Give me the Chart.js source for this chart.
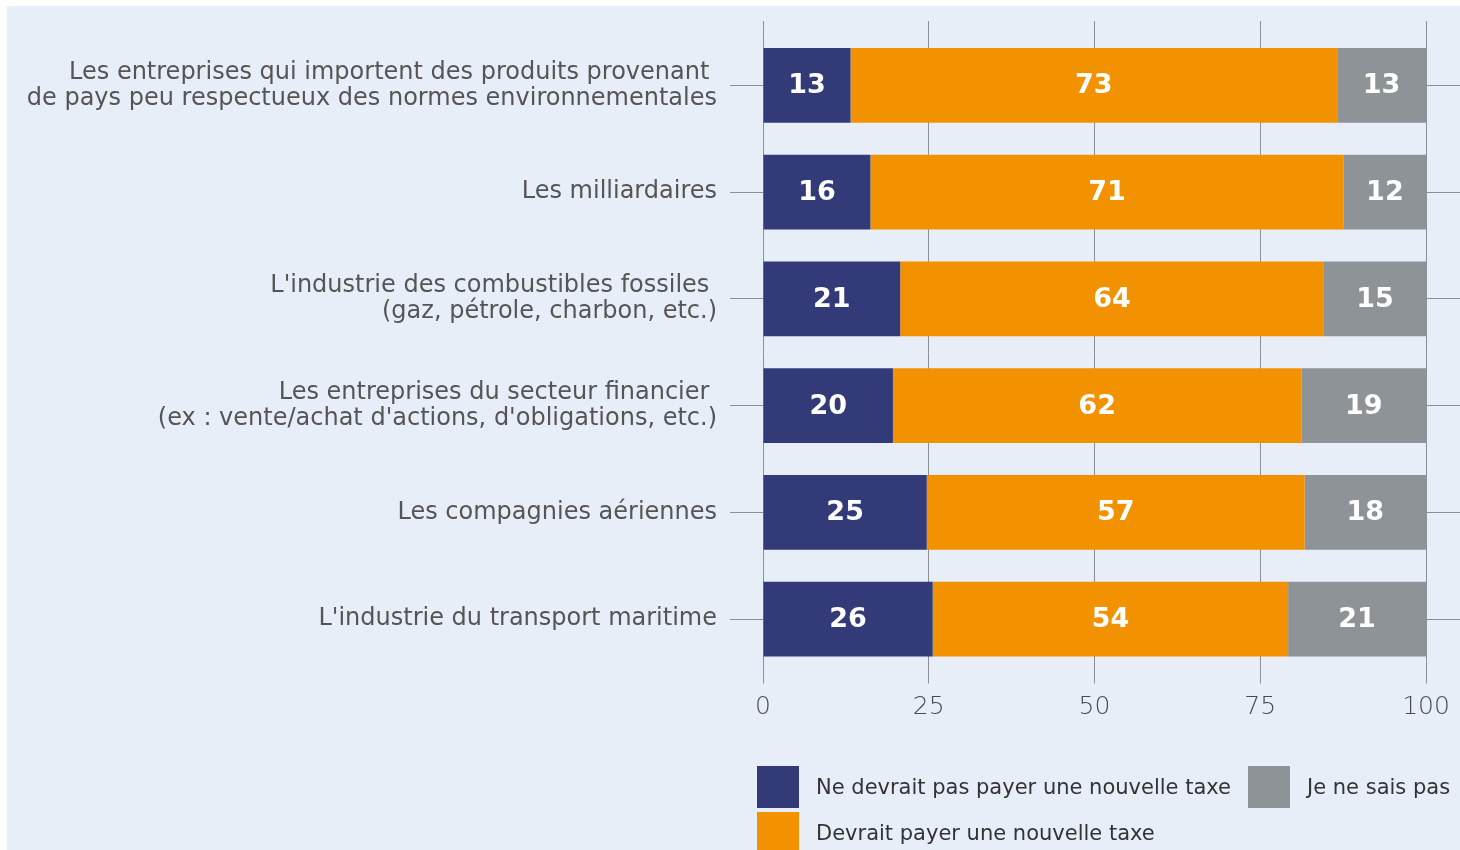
<!DOCTYPE html>
<html lang="fr">
<head>
<meta charset="UTF-8">
<title>Qui devrait payer une nouvelle taxe</title>
<script src="https://cdn.jsdelivr.net/npm/chart.js@4.4.1/dist/chart.umd.min.js"></script>
<style>
  html, body { margin: 0; padding: 0; background: #fff; }
  #wrap { position: absolute; left: 7px; top: 6px; width: 1453px; height: 844px; background: #e8eef8; overflow: hidden; }
  #legend { position: absolute; left: 750px; top: 760px; display: grid; grid-template-rows: 42px 42px; grid-auto-flow: column; column-gap: 17px; row-gap: 4px; font-family: "DejaVu Sans", sans-serif; font-size: 21px; color: #333; }
  .item { display: flex; align-items: center; }
  .box { width: 42px; height: 42px; margin-right: 17px; }
</style>
</head>
<body>
<div id="wrap">
  <canvas id="chart" width="1453" height="844"></canvas>
  <div id="legend"></div>
</div>
<script>
const categories = [
  ["Les entreprises qui importent des produits provenant ", "de pays peu respectueux des normes environnementales"],
  "Les milliardaires",
  ["L'industrie des combustibles fossiles ", "(gaz, pétrole, charbon, etc.)"],
  ["Les entreprises du secteur financier ", "(ex : vente/achat d'actions, d'obligations, etc.)"],
  "Les compagnies aériennes",
  "L'industrie du transport maritime"
];
const seriesNames = ["Ne devrait pas payer une nouvelle taxe", "Devrait payer une nouvelle taxe", "Je ne sais pas"];
const neDevraitPas = [13.2, 16.2, 20.7, 19.6, 24.7, 25.6];
const devrait = [73.4, 71.4, 63.9, 61.6, 57.0, 53.6];
const neSaisPas = [13.4, 12.4, 15.4, 18.8, 18.3, 20.8];
const colors = ["#323a78", "#f39200", "#8e9397"];

const FONT = '"DejaVu Sans", sans-serif';
const gridColor = "#8c8f94";

// white numbers in the middle of each segment
const barLabels = {
  id: 'barLabels',
  afterDatasetsDraw(chart) {
    const ctx = chart.ctx;
    ctx.save();
    ctx.font = 'bold 27px ' + FONT;
    ctx.fillStyle = '#fff';
    ctx.textAlign = 'center';
    ctx.textBaseline = 'middle';
    chart.data.datasets.forEach((ds, i) => {
      chart.getDatasetMeta(i).data.forEach((bar, j) => {
        ctx.fillText(Math.round(ds.data[j]), (bar.x + bar.base) / 2, bar.y + 1);
      });
    });
    ctx.restore();
  }
};

const chart = new Chart(document.getElementById('chart'), {
  type: 'bar',
  data: {
    labels: categories,
    datasets: [
      { label: seriesNames[0], data: neDevraitPas, backgroundColor: colors[0] },
      { label: seriesNames[1], data: devrait, backgroundColor: colors[1] },
      { label: seriesNames[2], data: neSaisPas, backgroundColor: colors[2] }
    ]
  },
  options: {
    indexAxis: 'y',
    responsive: false,
    animation: false,
    layout: { padding: 0 },
    datasets: { bar: { categoryPercentage: 0.7, barPercentage: 1, borderWidth: 0 } },
    plugins: { legend: { display: false }, tooltip: { enabled: false } },
    scales: {
      x: {
        stacked: true, min: 0, max: 100, position: 'bottom',
        afterFit: s => { s.height = 177.5; },
        border: { display: false },
        grid: { color: gridColor, tickLength: 11, drawOnChartArea: true },
        ticks: { stepSize: 25, padding: 9, color: '#4a4a4a', font: { family: FONT, size: 25, weight: 300 } }
      },
      x2: {
        type: 'linear', min: 0, max: 100, position: 'top',
        afterFit: s => { s.height = 23.5; },
        border: { display: false },
        grid: { color: gridColor, tickLength: 11, drawOnChartArea: false },
        ticks: { stepSize: 25, display: false }
      },
      y: {
        stacked: true, position: 'left',
        afterFit: s => { s.width = 756; },
        border: { display: false },
        grid: { color: gridColor, tickLength: 33, offset: false, drawOnChartArea: false },
        ticks: { padding: 13, color: '#555', font: { family: FONT, size: 24, lineHeight: 1.09 } }
      },
      y2: {
        type: 'category', position: 'right', offset: true,
        afterFit: s => { s.width = 34; },
        border: { display: false },
        grid: { color: gridColor, tickLength: 34, offset: false, drawOnChartArea: false },
        ticks: { display: false }
      }
    }
  },
  plugins: [barLabels]
});

// legend built from the datasets, two rows filled column by column
const legendEl = document.getElementById('legend');
chart.data.datasets.forEach(ds => {
  const item = document.createElement('div');
  item.className = 'item';
  const box = document.createElement('span');
  box.className = 'box';
  box.style.background = ds.backgroundColor;
  const txt = document.createElement('span');
  txt.textContent = ds.label;
  item.appendChild(box);
  item.appendChild(txt);
  legendEl.appendChild(item);
});
</script>
</body>
</html>
